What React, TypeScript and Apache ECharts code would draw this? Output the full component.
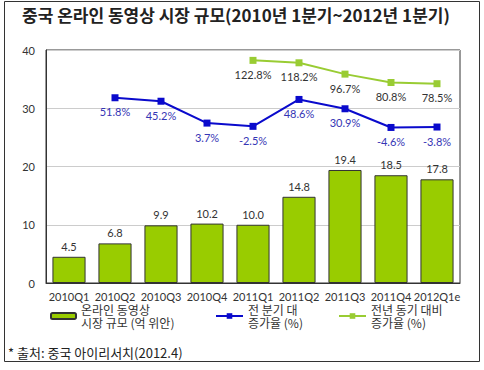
import React, { useEffect, useRef } from "react";
import * as echarts from "echarts";

const categories = ["2010Q1", "2010Q2", "2010Q3", "2010Q4", "2011Q1", "2011Q2", "2011Q3", "2011Q4", "2012Q1e"];
const marketSize = [4.5, 6.8, 9.9, 10.2, 10.0, 14.8, 19.4, 18.5, 17.8];
const qoqGrowth = [null, 51.8, 45.2, 3.7, -2.5, 48.6, 30.9, -4.6, -3.8];
const yoyGrowth = [null, null, null, null, 122.8, 118.2, 96.7, 80.8, 78.5];
const yTicks = { min: 0, max: 40, interval: 10 };

const barName = "온라인 동영상\n시장 규모 (억 위안)";
const qoqName = "전 분기 대\n증가율 (%)";
const yoyName = "전년 동기 대비\n증가율 (%)";
const titleText = "중국 온라인 동영상 시장 규모(2010년 1분기~2012년 1분기)";
const sourceText = "* 출처: 중국 아이리서치(2012.4)";

const KR = "'Noto Sans CJK KR', 'Noto Sans', sans-serif";
const NUM = "Lato, 'Open Sans', sans-serif";

export default function App() {
  const ref = useRef<HTMLDivElement>(null);
  useEffect(() => {
    if (!ref.current) return;
    const chart = echarts.init(ref.current, null, { renderer: "svg" });
    const legendText = { fontFamily: KR, fontSize: 12, lineHeight: 13, color: "#333" };
    chart.setOption({
      animation: false,
      backgroundColor: "#fff",
      grid: { left: 46, right: 24, top: 50, bottom: 87, show: true, borderColor: "#333", borderWidth: 1 },
      graphic: [
        { type: "rect", shape: { x: 4.5, y: 1.5, width: 475, height: 360 }, style: { fill: "none", stroke: "#333", lineWidth: 1 }, silent: true },
        { type: "text", x: 22, y: 14, style: { text: titleText, fontFamily: KR, fontSize: 17, fontWeight: "bold", fill: "#222", verticalAlign: "middle" } },
        { type: "text", x: 8, y: 352, style: { text: sourceText, fontFamily: KR, fontSize: 13, fill: "#222", verticalAlign: "middle" } },
      ],
      legend: [
        { data: [barName], left: 45, top: 298, itemWidth: 25, itemHeight: 6, textStyle: legendText, selectedMode: false },
        { data: [qoqName], left: 210, top: 298, itemWidth: 27, itemHeight: 7, textStyle: legendText, selectedMode: false },
        { data: [yoyName], left: 333, top: 298, itemWidth: 27, itemHeight: 7, textStyle: legendText, selectedMode: false },
      ],
      xAxis: {
        type: "category",
        data: categories,
        axisLine: { lineStyle: { color: "#333", width: 1 } },
        axisTick: { show: false },
        axisLabel: { fontFamily: NUM, fontSize: 11, color: "#333", margin: 8, interval: 0 },
      },
      yAxis: [
        {
          type: "value",
          min: yTicks.min,
          max: yTicks.max,
          interval: yTicks.interval,
          axisLine: { show: true, lineStyle: { color: "#333" } },
          axisTick: { show: false },
          axisLabel: { fontFamily: NUM, fontSize: 11, color: "#333", margin: 11 },
          splitLine: { lineStyle: { color: "#cccccc" } },
        },
        { type: "value", min: -300, max: 142.5, show: false, splitLine: { show: false } },
      ],
      series: [
        {
          name: barName,
          type: "bar",
          data: marketSize,
          barWidth: "72%",
          itemStyle: { color: "#99cc00", borderColor: "#333", borderWidth: 1 },
          label: { show: true, position: "top", distance: 5, fontFamily: NUM, fontSize: 11, color: "#333", formatter: (p: any) => Number(p.value).toFixed(1) },
        },
        {
          name: qoqName,
          type: "line",
          yAxisIndex: 1,
          data: qoqGrowth,
          symbol: "rect",
          symbolSize: 7,
          itemStyle: { color: "#0a0acc" },
          lineStyle: { color: "#0a0acc", width: 2 },
          label: { show: true, position: "bottom", distance: 5, fontFamily: NUM, fontSize: 11, color: "#3535b5", formatter: "{c}%" },
        },
        {
          name: yoyName,
          type: "line",
          yAxisIndex: 1,
          data: yoyGrowth,
          symbol: "rect",
          symbolSize: 7,
          itemStyle: { color: "#99cc33" },
          lineStyle: { color: "#99cc33", width: 2 },
          label: { show: true, position: "bottom", distance: 5, fontFamily: NUM, fontSize: 11, color: "#333", formatter: "{c}%" },
        },
      ],
    });
    return () => chart.dispose();
  }, []);
  return <div ref={ref} style={{ position: "fixed", left: 0, top: 0, width: 484, height: 370 }} />;
}
